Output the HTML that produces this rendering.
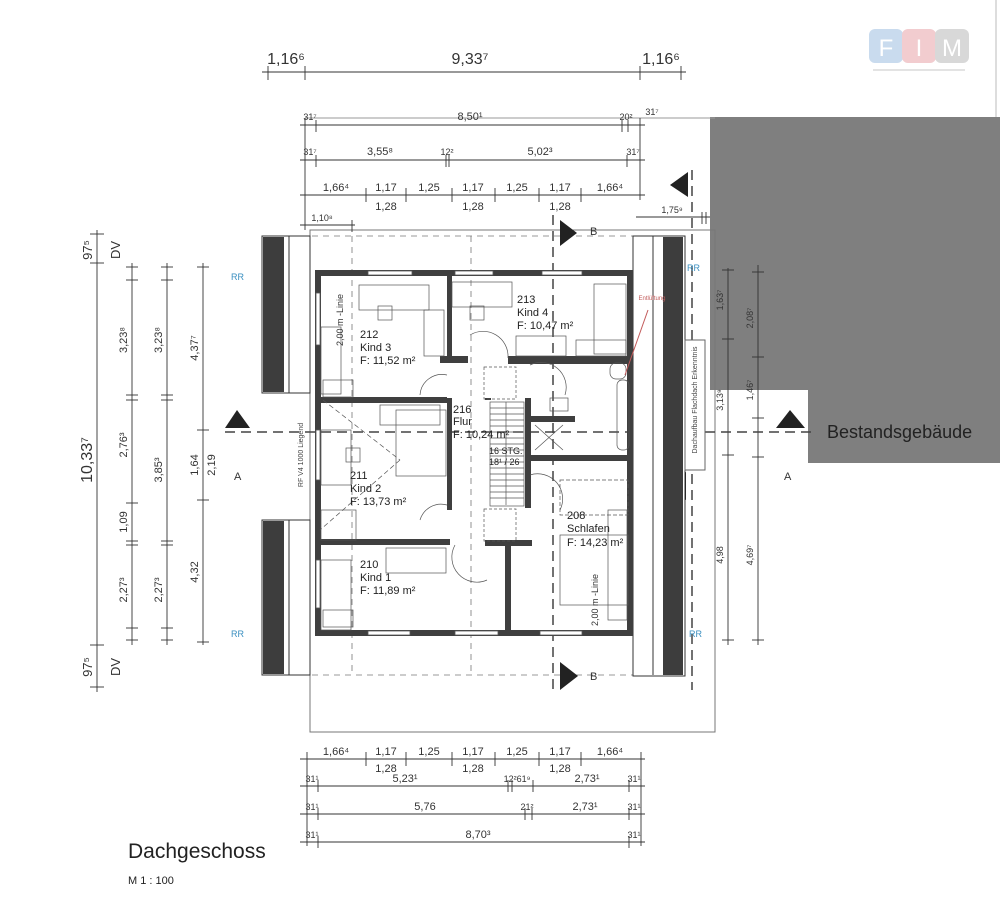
<!DOCTYPE html>
<html><head><meta charset="utf-8"><style>
html,body{margin:0;padding:0;background:#fff;}
svg{display:block;font-family:"Liberation Sans",sans-serif;}
</style></head><body>
<svg width="1000" height="904" viewBox="0 0 1000 904" xmlns="http://www.w3.org/2000/svg">
<rect width="1000" height="904" fill="#fff"/>
<!-- existing building -->
<polygon points="710,117 1000,117 1000,463 808,463 808,390 710,390" fill="#7f7f7f"/>
<line x1="996" y1="0" x2="996" y2="117" stroke="#bbb" stroke-width="1"/>
<text x="827" y="438" font-size="18" fill="#222">Bestandsgebäude</text>

<!-- logo -->
<rect x="869" y="29" width="34" height="34" rx="6" fill="#c9dbee"/>
<rect x="902" y="29" width="34" height="34" rx="6" fill="#f2cccf"/>
<rect x="935" y="29" width="34" height="34" rx="6" fill="#d8d8d8"/>
<text x="886" y="56" font-size="24" fill="#fff" text-anchor="middle">F</text>
<text x="919" y="56" font-size="24" fill="#fff" text-anchor="middle">I</text>
<text x="952" y="56" font-size="24" fill="#fff" text-anchor="middle">M</text>
<line x1="873" y1="70" x2="965" y2="70" stroke="#e3e3e3" stroke-width="2"/>

<g stroke="#333" stroke-width="1" fill="none">
<!-- roof outline -->
<polyline points="305,118 715,118" stroke="#999"/>
<rect x="310" y="230" width="405" height="502" stroke="#777"/>
</g>

<!-- dimension lines -->
<g stroke="#333" stroke-width="0.9" fill="none">
<line x1="262" y1="72" x2="686" y2="72"/>
<line x1="268" y1="66" x2="268" y2="80"/><line x1="305" y1="66" x2="305" y2="80"/><line x1="640" y1="66" x2="640" y2="80"/><line x1="681" y1="66" x2="681" y2="80"/>
<line x1="300" y1="125" x2="645" y2="125"/>
<line x1="305" y1="118" x2="305" y2="230"/><line x1="316" y1="120" x2="316" y2="132"/><line x1="622" y1="120" x2="622" y2="132"/><line x1="628" y1="120" x2="628" y2="132"/><line x1="640" y1="118" x2="640" y2="200"/>
<line x1="300" y1="160" x2="645" y2="160"/>
<line x1="316" y1="155" x2="316" y2="167"/><line x1="446" y1="155" x2="446" y2="167"/><line x1="449" y1="155" x2="449" y2="167"/><line x1="627" y1="155" x2="627" y2="167"/>
<line x1="300" y1="195" x2="645" y2="195"/>
<line x1="366" y1="188" x2="366" y2="202"/><line x1="406" y1="188" x2="406" y2="202"/><line x1="452" y1="188" x2="452" y2="202"/><line x1="495" y1="188" x2="495" y2="202"/><line x1="539" y1="188" x2="539" y2="202"/><line x1="581" y1="188" x2="581" y2="202"/>
<line x1="300" y1="225" x2="355" y2="225"/><line x1="352" y1="220" x2="352" y2="232"/>
<line x1="636" y1="217" x2="710" y2="217"/><line x1="706" y1="212" x2="706" y2="224"/><line x1="702" y1="212" x2="702" y2="224"/>
<!-- left verticals -->
<line x1="97" y1="230" x2="97" y2="692"/>
<line x1="90" y1="234" x2="104" y2="234"/><line x1="90" y1="263" x2="104" y2="263"/><line x1="90" y1="645" x2="104" y2="645"/><line x1="90" y1="687" x2="104" y2="687"/>
<line x1="132" y1="263" x2="132" y2="645"/>
<line x1="126" y1="267" x2="138" y2="267"/><line x1="126" y1="280" x2="138" y2="280"/><line x1="126" y1="395" x2="138" y2="395"/><line x1="126" y1="400" x2="138" y2="400"/><line x1="126" y1="503" x2="138" y2="503"/><line x1="126" y1="541" x2="138" y2="541"/><line x1="126" y1="545" x2="138" y2="545"/><line x1="126" y1="628" x2="138" y2="628"/><line x1="126" y1="640" x2="138" y2="640"/>
<line x1="167" y1="263" x2="167" y2="645"/>
<line x1="161" y1="267" x2="173" y2="267"/><line x1="161" y1="280" x2="173" y2="280"/><line x1="161" y1="395" x2="173" y2="395"/><line x1="161" y1="400" x2="173" y2="400"/><line x1="161" y1="541" x2="173" y2="541"/><line x1="161" y1="545" x2="173" y2="545"/><line x1="161" y1="628" x2="173" y2="628"/><line x1="161" y1="640" x2="173" y2="640"/>
<line x1="203" y1="263" x2="203" y2="645"/>
<line x1="197" y1="267" x2="209" y2="267"/><line x1="197" y1="430" x2="209" y2="430"/><line x1="197" y1="500" x2="209" y2="500"/><line x1="197" y1="642" x2="209" y2="642"/>
<!-- right verticals -->
<line x1="728" y1="268" x2="728" y2="645"/>
<line x1="722" y1="270" x2="734" y2="270"/><line x1="722" y1="339" x2="734" y2="339"/><line x1="722" y1="455" x2="734" y2="455"/><line x1="722" y1="640" x2="734" y2="640"/>
<line x1="758" y1="265" x2="758" y2="645"/>
<line x1="752" y1="272" x2="764" y2="272"/><line x1="752" y1="357" x2="764" y2="357"/><line x1="752" y1="418" x2="764" y2="418"/><line x1="752" y1="457" x2="764" y2="457"/><line x1="752" y1="640" x2="764" y2="640"/>
<!-- bottom -->
<line x1="300" y1="759" x2="645" y2="759"/>
<line x1="307" y1="752" x2="307" y2="846"/><line x1="366" y1="752" x2="366" y2="766"/><line x1="406" y1="752" x2="406" y2="766"/><line x1="452" y1="752" x2="452" y2="766"/><line x1="495" y1="752" x2="495" y2="766"/><line x1="539" y1="752" x2="539" y2="766"/><line x1="581" y1="752" x2="581" y2="766"/><line x1="641" y1="752" x2="641" y2="846"/>
<line x1="300" y1="786" x2="645" y2="786"/>
<line x1="318" y1="780" x2="318" y2="792"/><line x1="508" y1="780" x2="508" y2="792"/><line x1="512" y1="780" x2="512" y2="792"/><line x1="533" y1="780" x2="533" y2="792"/><line x1="629" y1="780" x2="629" y2="792"/>
<line x1="300" y1="814" x2="645" y2="814"/>
<line x1="318" y1="808" x2="318" y2="820"/><line x1="525" y1="808" x2="525" y2="820"/><line x1="532" y1="808" x2="532" y2="820"/><line x1="629" y1="808" x2="629" y2="820"/>
<line x1="300" y1="842" x2="645" y2="842"/>
<line x1="318" y1="836" x2="318" y2="848"/><line x1="629" y1="836" x2="629" y2="848"/>
</g>

<g font-size="11" fill="#333" text-anchor="middle">
<text x="286" y="64" font-size="16">1,16⁶</text><text x="470" y="64" font-size="16">9,33⁷</text><text x="661" y="64" font-size="16">1,16⁶</text>
<text x="310" y="120" font-size="9">31⁷</text><text x="470" y="120">8,50¹</text><text x="626" y="120" font-size="9">20²</text><text x="652" y="115" font-size="9">31⁷</text>
<text x="310" y="155" font-size="9">31⁷</text><text x="380" y="155">3,55⁸</text><text x="447" y="155" font-size="9">12²</text><text x="540" y="155">5,02³</text><text x="633" y="155" font-size="9">31⁷</text>
<text x="336" y="191">1,66⁴</text><text x="386" y="191">1,17</text><text x="429" y="191">1,25</text><text x="473" y="191">1,17</text><text x="517" y="191">1,25</text><text x="560" y="191">1,17</text><text x="610" y="191">1,66⁴</text>
<text x="386" y="210">1,28</text><text x="473" y="210">1,28</text><text x="560" y="210">1,28</text>
<text x="322" y="221" font-size="9">1,10⁸</text><text x="672" y="213" font-size="9">1,75⁹</text>
<text x="336" y="755">1,66⁴</text><text x="386" y="755">1,17</text><text x="429" y="755">1,25</text><text x="473" y="755">1,17</text><text x="517" y="755">1,25</text><text x="560" y="755">1,17</text><text x="610" y="755">1,66⁴</text>
<text x="386" y="772">1,28</text><text x="473" y="772">1,28</text><text x="560" y="772">1,28</text>
<text x="312" y="782" font-size="9">31¹</text><text x="405" y="782">5,23¹</text><text x="517" y="782" font-size="9">12²61⁹</text><text x="587" y="782">2,73¹</text><text x="634" y="782" font-size="9">31¹</text>
<text x="312" y="810" font-size="9">31¹</text><text x="425" y="810">5,76</text><text x="527" y="810" font-size="9">21²</text><text x="585" y="810">2,73¹</text><text x="634" y="810" font-size="9">31¹</text>
<text x="312" y="838" font-size="9">31¹</text><text x="478" y="838">8,70³</text><text x="634" y="838" font-size="9">31¹</text>
</g>
<g font-size="11" fill="#333" text-anchor="middle">
<text transform="translate(92,250) rotate(-90)" font-size="13">97⁵</text><text transform="translate(120,250) rotate(-90)" font-size="13">DV</text>
<text transform="translate(92,460) rotate(-90)" font-size="16">10,33⁷</text>
<text transform="translate(92,667) rotate(-90)" font-size="13">97⁵</text><text transform="translate(120,667) rotate(-90)" font-size="13">DV</text>
<text transform="translate(127,340) rotate(-90)">3,23⁸</text><text transform="translate(127,445) rotate(-90)">2,76³</text><text transform="translate(127,522) rotate(-90)">1,09</text><text transform="translate(127,590) rotate(-90)">2,27³</text>
<text transform="translate(162,340) rotate(-90)">3,23⁸</text><text transform="translate(162,470) rotate(-90)">3,85³</text><text transform="translate(162,590) rotate(-90)">2,27³</text>
<text transform="translate(198,348) rotate(-90)">4,37⁷</text><text transform="translate(198,465) rotate(-90)">1,64</text><text transform="translate(215,465) rotate(-90)">2,19</text><text transform="translate(198,572) rotate(-90)">4,32</text>
<text transform="translate(723,300) rotate(-90)" font-size="9">1,63⁷</text><text transform="translate(723,400) rotate(-90)" font-size="9">3,13⁹</text><text transform="translate(723,555) rotate(-90)" font-size="9">4,98</text>
<text transform="translate(753,318) rotate(-90)" font-size="9">2,08⁷</text><text transform="translate(753,390) rotate(-90)" font-size="9">1,46⁷</text><text transform="translate(753,555) rotate(-90)" font-size="9">4,69⁷</text>
</g>

<!-- section lines -->
<g stroke="#444" stroke-width="1.5" stroke-dasharray="10,6" fill="none">
<line x1="225" y1="432" x2="812" y2="432"/>
<line x1="553" y1="215" x2="553" y2="695"/>
<line x1="692" y1="170" x2="692" y2="690"/>
</g>
<g stroke="#777" stroke-width="0.8" stroke-dasharray="6,5" fill="none">
<line x1="290" y1="236" x2="640" y2="236"/>
<line x1="290" y1="675" x2="640" y2="675"/>
<line x1="352" y1="236" x2="352" y2="675"/>
<line x1="471" y1="236" x2="471" y2="675"/>
<line x1="290" y1="262" x2="310" y2="262"/><line x1="290" y1="634" x2="310" y2="634"/>
<line x1="635" y1="262" x2="685" y2="262"/><line x1="635" y1="634" x2="685" y2="634"/>
<line x1="640" y1="236" x2="640" y2="675"/>
</g>
<g fill="#222">
<polygon points="225,428 250,428 237,410"/>
<polygon points="776,428 805,428 790,410"/>
<polygon points="560,220 560,246 577,233"/>
<polygon points="560,662 560,690 578,676"/>
<polygon points="688,172 688,197 670,185"/>
<polygon points="686,472 686,500 668,486"/>
</g>
<g font-size="11" fill="#333"><text x="234" y="480">A</text><text x="784" y="480">A</text><text x="590" y="235">B</text><text x="590" y="680">B</text></g>
<g font-size="9" fill="#3a8fc0"><text x="231" y="280">RR</text><text x="231" y="637">RR</text><text x="687" y="271">RR</text><text x="689" y="637">RR</text></g>

<!-- roof windows / bars -->
<g stroke="#333" stroke-width="1" fill="#fff">
<rect x="262" y="236" width="48" height="157"/>
<rect x="262" y="520" width="48" height="155"/>
<rect x="633" y="236" width="52" height="440"/>
<rect x="685" y="340" width="20" height="130" stroke="#666"/>
</g>
<g fill="#3d3d3d">
<rect x="263" y="237" width="21" height="155"/>
<rect x="263" y="521" width="21" height="153"/>
<rect x="663" y="237" width="20" height="438"/>
</g>
<g stroke="#333" fill="none" stroke-width="1">
<line x1="289" y1="236" x2="289" y2="393"/><line x1="289" y1="520" x2="289" y2="675"/><line x1="653" y1="236" x2="653" y2="675"/>
</g>
<text transform="translate(697,400) rotate(-90)" font-size="7" fill="#444" text-anchor="middle">Dachaufbau Flachdach Erkenntnis</text>
<text transform="translate(303,455) rotate(-90)" font-size="7" fill="#444" text-anchor="middle">RF V4 1000 Liegend</text>

<!-- walls -->
<g fill="#3f3f3f">
<rect x="315" y="270" width="318" height="6"/>
<rect x="315" y="630" width="318" height="6"/>
<rect x="315" y="270" width="6" height="366"/>
<rect x="627" y="270" width="6" height="366"/>
<rect x="315" y="397" width="132" height="6"/>
<rect x="447" y="270" width="5" height="88"/>
<rect x="447" y="398" width="5" height="112"/>
<rect x="315" y="539" width="135" height="6"/>
<rect x="508" y="356" width="125" height="8"/>
<rect x="440" y="356" width="28" height="7"/>
<rect x="485" y="398" width="6" height="2"/>
<rect x="525" y="398" width="6" height="110"/>
<rect x="530" y="416" width="45" height="6"/>
<rect x="530" y="455" width="103" height="6"/>
<rect x="485" y="540" width="47" height="6"/>
<rect x="505" y="545" width="6" height="91"/>
</g>
<!-- windows in walls -->
<g fill="#fff" stroke="#555" stroke-width="0.8">
<rect x="368" y="271" width="44" height="4"/><rect x="455" y="271" width="38" height="4"/><rect x="542" y="271" width="40" height="4"/>
<rect x="368" y="631" width="42" height="4"/><rect x="455" y="631" width="43" height="4"/><rect x="540" y="631" width="42" height="4"/>
<rect x="316" y="293" width="4" height="52"/><rect x="316" y="430" width="4" height="50"/><rect x="316" y="560" width="4" height="48"/>
</g>

<!-- stairs -->
<g stroke="#555" stroke-width="0.7" fill="none">
<rect x="490" y="402" width="34" height="104"/>
<line x1="490" y1="408" x2="524" y2="408"/><line x1="490" y1="414" x2="524" y2="414"/><line x1="490" y1="420" x2="524" y2="420"/><line x1="490" y1="426" x2="524" y2="426"/><line x1="490" y1="432" x2="524" y2="432"/><line x1="490" y1="438" x2="524" y2="438"/><line x1="490" y1="444" x2="524" y2="444"/><line x1="490" y1="450" x2="524" y2="450"/><line x1="490" y1="456" x2="524" y2="456"/><line x1="490" y1="462" x2="524" y2="462"/><line x1="490" y1="468" x2="524" y2="468"/><line x1="490" y1="474" x2="524" y2="474"/><line x1="490" y1="480" x2="524" y2="480"/><line x1="490" y1="486" x2="524" y2="486"/><line x1="490" y1="492" x2="524" y2="492"/><line x1="490" y1="498" x2="524" y2="498"/>
<line x1="506" y1="402" x2="506" y2="505"/>
<rect x="484" y="367" width="32" height="32" stroke-dasharray="3,2"/>
<rect x="484" y="509" width="32" height="32" stroke-dasharray="3,2"/>
<!-- furniture -->
<rect x="359" y="285" width="70" height="25"/><rect x="378" y="306" width="14" height="14"/><rect x="424" y="310" width="20" height="46"/><rect x="321" y="327" width="20" height="67"/><rect x="323" y="380" width="30" height="17"/>
<rect x="452" y="282" width="60" height="25"/><rect x="470" y="306" width="14" height="14"/><rect x="594" y="284" width="32" height="70"/><rect x="516" y="336" width="50" height="20"/><rect x="576" y="340" width="50" height="16"/>
<rect x="380" y="405" width="60" height="20"/><rect x="396" y="410" width="50" height="66"/><rect x="321" y="430" width="30" height="55"/><rect x="346" y="448" width="14" height="14"/><rect x="321" y="510" width="35" height="30"/>
<rect x="386" y="548" width="60" height="25"/><rect x="321" y="560" width="30" height="70"/><rect x="323" y="610" width="30" height="17"/>
<rect x="560" y="480" width="68" height="35" stroke-dasharray="4,2"/><rect x="560" y="535" width="68" height="70"/><rect x="608" y="510" width="19" height="110"/>
<rect x="617" y="380" width="12" height="70" rx="5"/><rect x="610" y="363" width="16" height="16" rx="6"/><rect x="550" y="398" width="18" height="13"/>
<line x1="535" y1="425" x2="563" y2="450"/><line x1="535" y1="450" x2="563" y2="425"/>
<line x1="323" y1="400" x2="400" y2="460" stroke-dasharray="5,3"/><line x1="400" y1="460" x2="320" y2="530" stroke-dasharray="5,3"/>
<!-- doors -->
<path d="M470,335 A25,25 0 0 1 508,358"/><path d="M420,395 A22,22 0 0 1 447,375"/><path d="M420,520 A22,22 0 0 1 447,505"/>
<path d="M530,365 A25,25 0 0 1 565,395"/><path d="M530,475 A25,25 0 0 1 560,510"/><path d="M455,545 A25,25 0 0 0 487,580"/>
</g>
<path d="M625,375 L648,310" stroke="#c25a5a" stroke-width="1" fill="none"/>
<text x="652" y="300" font-size="6" fill="#c25a5a" text-anchor="middle">Entlüftung</text>

<g font-size="11" fill="#222">
<text x="360" y="338">212</text><text x="360" y="351">Kind 3</text><text x="360" y="364">F: 11,52 m²</text>
<text x="517" y="303">213</text><text x="517" y="316">Kind 4</text><text x="517" y="329">F: 10,47 m²</text>
<text x="453" y="413">216</text><text x="453" y="425">Flur</text><text x="453" y="438">F: 10,24 m²</text>
<text x="350" y="479">211</text><text x="350" y="492">Kind 2</text><text x="350" y="505">F: 13,73 m²</text>
<text x="360" y="568">210</text><text x="360" y="581">Kind 1</text><text x="360" y="594">F: 11,89 m²</text>
<text x="567" y="519">208</text><text x="567" y="532">Schlafen</text><text x="567" y="546">F: 14,23 m²</text>
<text x="489" y="454" font-size="9">16 STG.</text><text x="489" y="465" font-size="9">18¹ / 26</text>
</g>
<text transform="translate(343,320) rotate(-90)" font-size="9" fill="#333" text-anchor="middle">2,00 m -Linie</text>
<text transform="translate(598,600) rotate(-90)" font-size="9" fill="#333" text-anchor="middle">2,00 m -Linie</text>

<text x="128" y="858" font-size="21" fill="#222">Dachgeschoss</text>
<text x="128" y="884" font-size="11" fill="#222">M 1 : 100</text>
</svg>
</body></html>
